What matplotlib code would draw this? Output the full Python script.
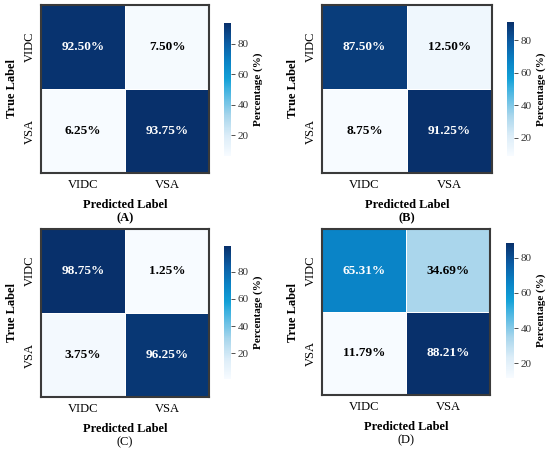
import numpy as np
import matplotlib
matplotlib.use("Agg")
import matplotlib.pyplot as plt
from matplotlib.colors import LinearSegmentedColormap

plt.rcParams['font.family'] = ['Liberation Serif', 'DejaVu Serif']

classes = ["VIDC", "VSA"]
panel_names = ["(A)", "(B)", "(C)", "(D)"]
cm_A = [[92.50, 7.50], [6.25, 93.75]]
cm_B = [[87.50, 12.50], [8.75, 91.25]]
cm_C = [[98.75, 1.25], [3.75, 96.25]]
cm_D = [[65.31, 34.69], [11.79, 88.21]]
matrices = [cm_A, cm_B, cm_C, cm_D]
cbar_ticks = [20, 40, 60, 80]

cmap = LinearSegmentedColormap.from_list(
    "custom_blues",
    [(0.0, '#f7fbff'), (0.15, '#dcedf8'), (0.30, '#a9d6ec'), (0.5, '#3fb2e0'),
     (0.58, '#12a0d7'), (0.70, '#0a85c7'), (0.85, '#0b5ca3'), (1.0, '#08306b')])

W, H = 550, 451
fig = plt.figure(figsize=(W / 100, H / 100), dpi=100)

# pixel boxes: (left, top, width, height)
hm_boxes = [(41, 5, 168, 168), (322, 5, 170, 168), (41, 229, 168, 168), (322, 229, 168, 166)]
cb_boxes = [(224, 23, 7, 133), (507, 22, 7, 134), (224, 246, 7, 133), (506, 243, 8, 135)]
bold_caption = [True, True, False, False]


def frac(box):
    l, t, w, h = box
    return [l / W, 1 - (t + h) / H, w / W, h / H]


for i, m in enumerate(matrices):
    data = np.array(m)
    ax = fig.add_axes(frac(hm_boxes[i]))
    vmin, vmax = data.min(), data.max()
    mesh = ax.pcolormesh(np.arange(3), np.arange(3), data, cmap=cmap, vmin=vmin, vmax=vmax,
                         edgecolor='white', linewidth=0.7)
    ax.set_xlim(0, 2)
    ax.set_ylim(2, 0)
    for r in range(2):
        for c in range(2):
            v = data[r, c]
            norm = (v - vmin) / (vmax - vmin)
            col = 'white' if norm > 0.55 else 'black'
            ax.text(c + 0.5, r + 0.5, f"{v:.2f}%", ha='center', va='center',
                    fontsize=9.5, fontweight='bold', color=col)
    ax.set_xticks([0.5, 1.5])
    ax.set_xticklabels(classes, fontsize=9)
    ax.set_yticks([0.5, 1.5])
    ax.set_yticklabels(classes, fontsize=9, rotation=90, va='center')
    ax.tick_params(axis='x', length=0, pad=4)
    ax.tick_params(axis='y', length=0, pad=4)
    ax.set_xlabel("Predicted Label", fontsize=9, fontweight='bold', labelpad=6)
    ax.set_ylabel("True Label", fontsize=9, fontweight='bold', labelpad=4)
    for s in ax.spines.values():
        s.set_color('#3a3a3a')
        s.set_linewidth(1.5)
    l, t, w, h = hm_boxes[i]
    fig.text((l + w / 2) / W, 1 - (t + h + 45) / H, panel_names[i], ha='center', va='center',
             fontsize=9, fontweight='bold' if bold_caption[i] else 'normal')

    cax = fig.add_axes(frac(cb_boxes[i]))
    cb = fig.colorbar(mesh, cax=cax)
    cb.outline.set_visible(False)
    cb.set_ticks(cbar_ticks)
    cax.tick_params(labelsize=8, length=3, width=0.6, colors='#333333', pad=2)
    cb.set_label("Percentage (%)", fontsize=8, fontweight='bold', labelpad=3)

fig.savefig("out.png", dpi=100)
